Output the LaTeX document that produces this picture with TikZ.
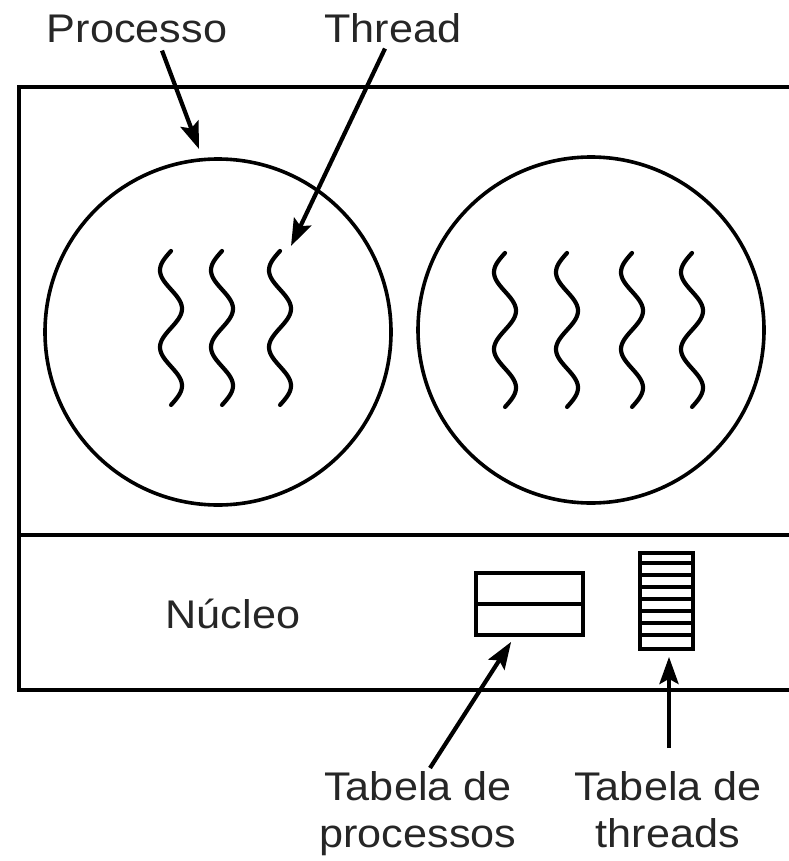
\documentclass[tikz,border=0pt]{standalone}
\usepackage{fontspec}
\newfontfamily\lab[FakeStretch=1.08]{Liberation Sans}
\usetikzlibrary{arrows.meta}
\begin{document}
\begin{tikzpicture}[x=1pt,y=-1pt,
  frame/.style={line width=4pt},
  proc/.style={circle,draw,line width=3.6pt,minimum size=346pt,inner sep=0pt},
  squig/.style={line width=4.2pt,line cap=round},
  tab/.style={draw,line width=3.8pt,inner sep=0pt,rectangle},
  arr/.style={line width=4.2pt,-{Stealth[length=27pt,width=19pt,inset=5pt]}},
  txt/.style={font=\lab\fontsize{40}{47}\selectfont,inner sep=0pt,align=center,text=black!85}]
\useasboundingbox (0,0) rectangle (788,861);
% outer frame (open on the right)
\draw[frame] (800,87) -- (19,87) -- (19,690) -- (800,690);
\draw[frame] (19,535) -- (800,535);
% processes
\node[proc] (p1) at (218,332) {};
\node[proc] (p2) at (591,330) {};
% threads
\foreach \cx/\yo in {171/251,222/251,280/251,505/253,567/253,632/253,692/253}{
  \draw[squig] plot[domain=0:2,samples=90,smooth,variable=\t] ({\cx-11*sin(\t*360)},{\yo+77*\t});
}
\coordinate (thtop) at (291,246);
\coordinate (ptop) at (199,149);
% tables
\node[tab,minimum width=107pt,minimum height=62pt] (tproc) at (529.5,604) {};
\draw[line width=3.8pt] (tproc.west) -- (tproc.east);
\node[tab,minimum width=53pt,minimum height=96pt] (tthr) at (666.5,601) {};
\foreach \i in {1,...,7}{
  \draw[line width=4.4pt] ([yshift=-12*\i pt]tthr.north west) -- ([yshift=-12*\i pt]tthr.north east);
}
% labels
\node[txt,anchor=base] (lproc) at (137,43) {Processo};
\node[txt,anchor=base] (lthr) at (393,43) {Thread};
\node[txt,anchor=base] (lnuc) at (233,628) {Núcleo};
\node[txt,anchor=north] (ltp) at (418,771) {Tabela de\\processos};
\node[txt,anchor=north] (ltt) at (668,771) {Tabela de\\threads};
% arrows
\draw[arr] ([xshift=25pt,yshift=-7pt]lproc.south) -- (ptop);
\draw[arr] ([xshift=-8pt,yshift=-5pt]lthr.south) -- (thtop);
\draw[arr] ([xshift=12pt,yshift=3pt]ltp.north) -- ([xshift=37pt,yshift=-5pt]tproc.south west);
\draw[arr] ([xshift=1pt,yshift=23pt]ltt.north) -- ([xshift=2.5pt,yshift=-6pt]tthr.south);
\end{tikzpicture}
\end{document}
